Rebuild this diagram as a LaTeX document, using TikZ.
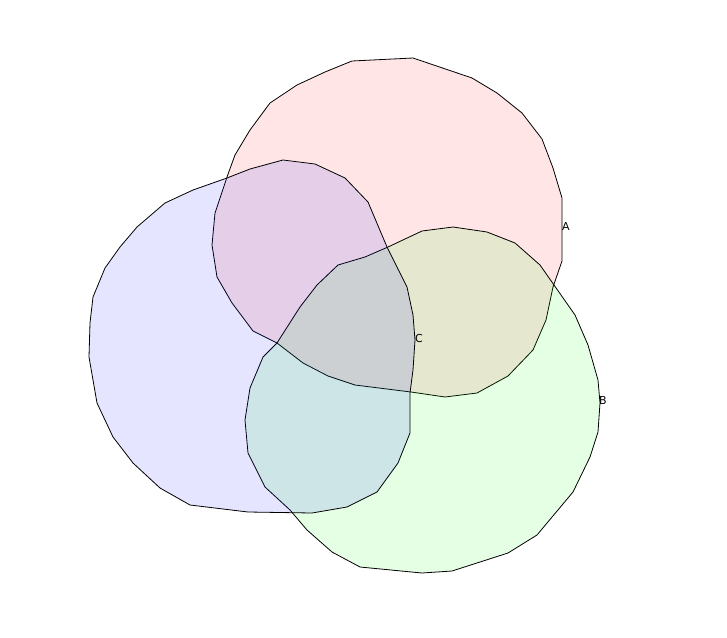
\documentclass[tikz,border=0pt]{standalone}
\usepackage{fontspec}
\setmainfont{DejaVu Sans}
\usetikzlibrary{positioning}
\definecolor{SetRed}{HTML}{FF0000}
\definecolor{SetGreen}{HTML}{00FF00}
\definecolor{SetBlue}{HTML}{0000FF}
\definecolor{Ink}{HTML}{000000}

\begin{document}
\begin{tikzpicture}[x=1pt,y=-1pt,
    blob/.style={draw=Ink,line width=0.8pt,line join=round,fill opacity=0.1},
    setlabel/.style={anchor=west,inner sep=1pt,font=\fontsize{11}{13}\selectfont,text=Ink}]
    \useasboundingbox (0,0) rectangle (727,637);
    % set A
    \draw[blob,fill=SetRed] (352,61) -- (413,58) -- (472,78) -- (497,93) -- (522,113)
      -- (542,139) -- (553,168) -- (562,198) -- (562,261) -- (553,287) -- (546,320)
      -- (533,350) -- (508,376) -- (477,393) -- (445,397) -- (411,392) -- (355,385)
      -- (328,376) -- (303,363) -- (277,343) -- (253,331) -- (232,303) -- (217,277)
      -- (212,245) -- (215,213) -- (227,177) -- (235,155) -- (250,130) -- (270,103)
      -- (297,85) -- (325,72) -- cycle;
    % set B
    \draw[blob,fill=SetGreen] (422,231) -- (453,227) -- (487,232) -- (515,243) -- (540,265)
      -- (575,315) -- (588,345) -- (598,380) -- (600,403) -- (598,432) -- (590,457)
      -- (573,492) -- (537,535) -- (508,553) -- (452,571) -- (422,573) -- (360,567)
      -- (332,552) -- (307,530) -- (290,510) -- (265,487) -- (248,453) -- (245,420)
      -- (250,388) -- (263,357) -- (277,343) -- (300,307) -- (317,285) -- (338,265)
      -- (365,257) -- (388,247) -- cycle;
    % set C
    \draw[blob,fill=SetBlue] (283,160) -- (315,164) -- (345,178) -- (368,202) -- (387,247)
      -- (392,257) -- (407,287) -- (413,315) -- (415,340) -- (413,370) -- (410,393)
      -- (410,433) -- (398,463) -- (377,492) -- (347,507) -- (312,513) -- (248,512)
      -- (190,505) -- (160,488) -- (133,463) -- (113,437) -- (97,403) -- (89,357)
      -- (90,323) -- (93,297) -- (105,268) -- (120,247) -- (137,227) -- (165,203)
      -- (193,190) -- (227,178) -- (250,169) -- cycle;
    % labels
    \node[setlabel] (labA) at (561,226) {A};
    \node[setlabel] (labB) at (598,400) {B};
    \node[setlabel] (labC) at (414,338) {C};
\end{tikzpicture}
\end{document}
